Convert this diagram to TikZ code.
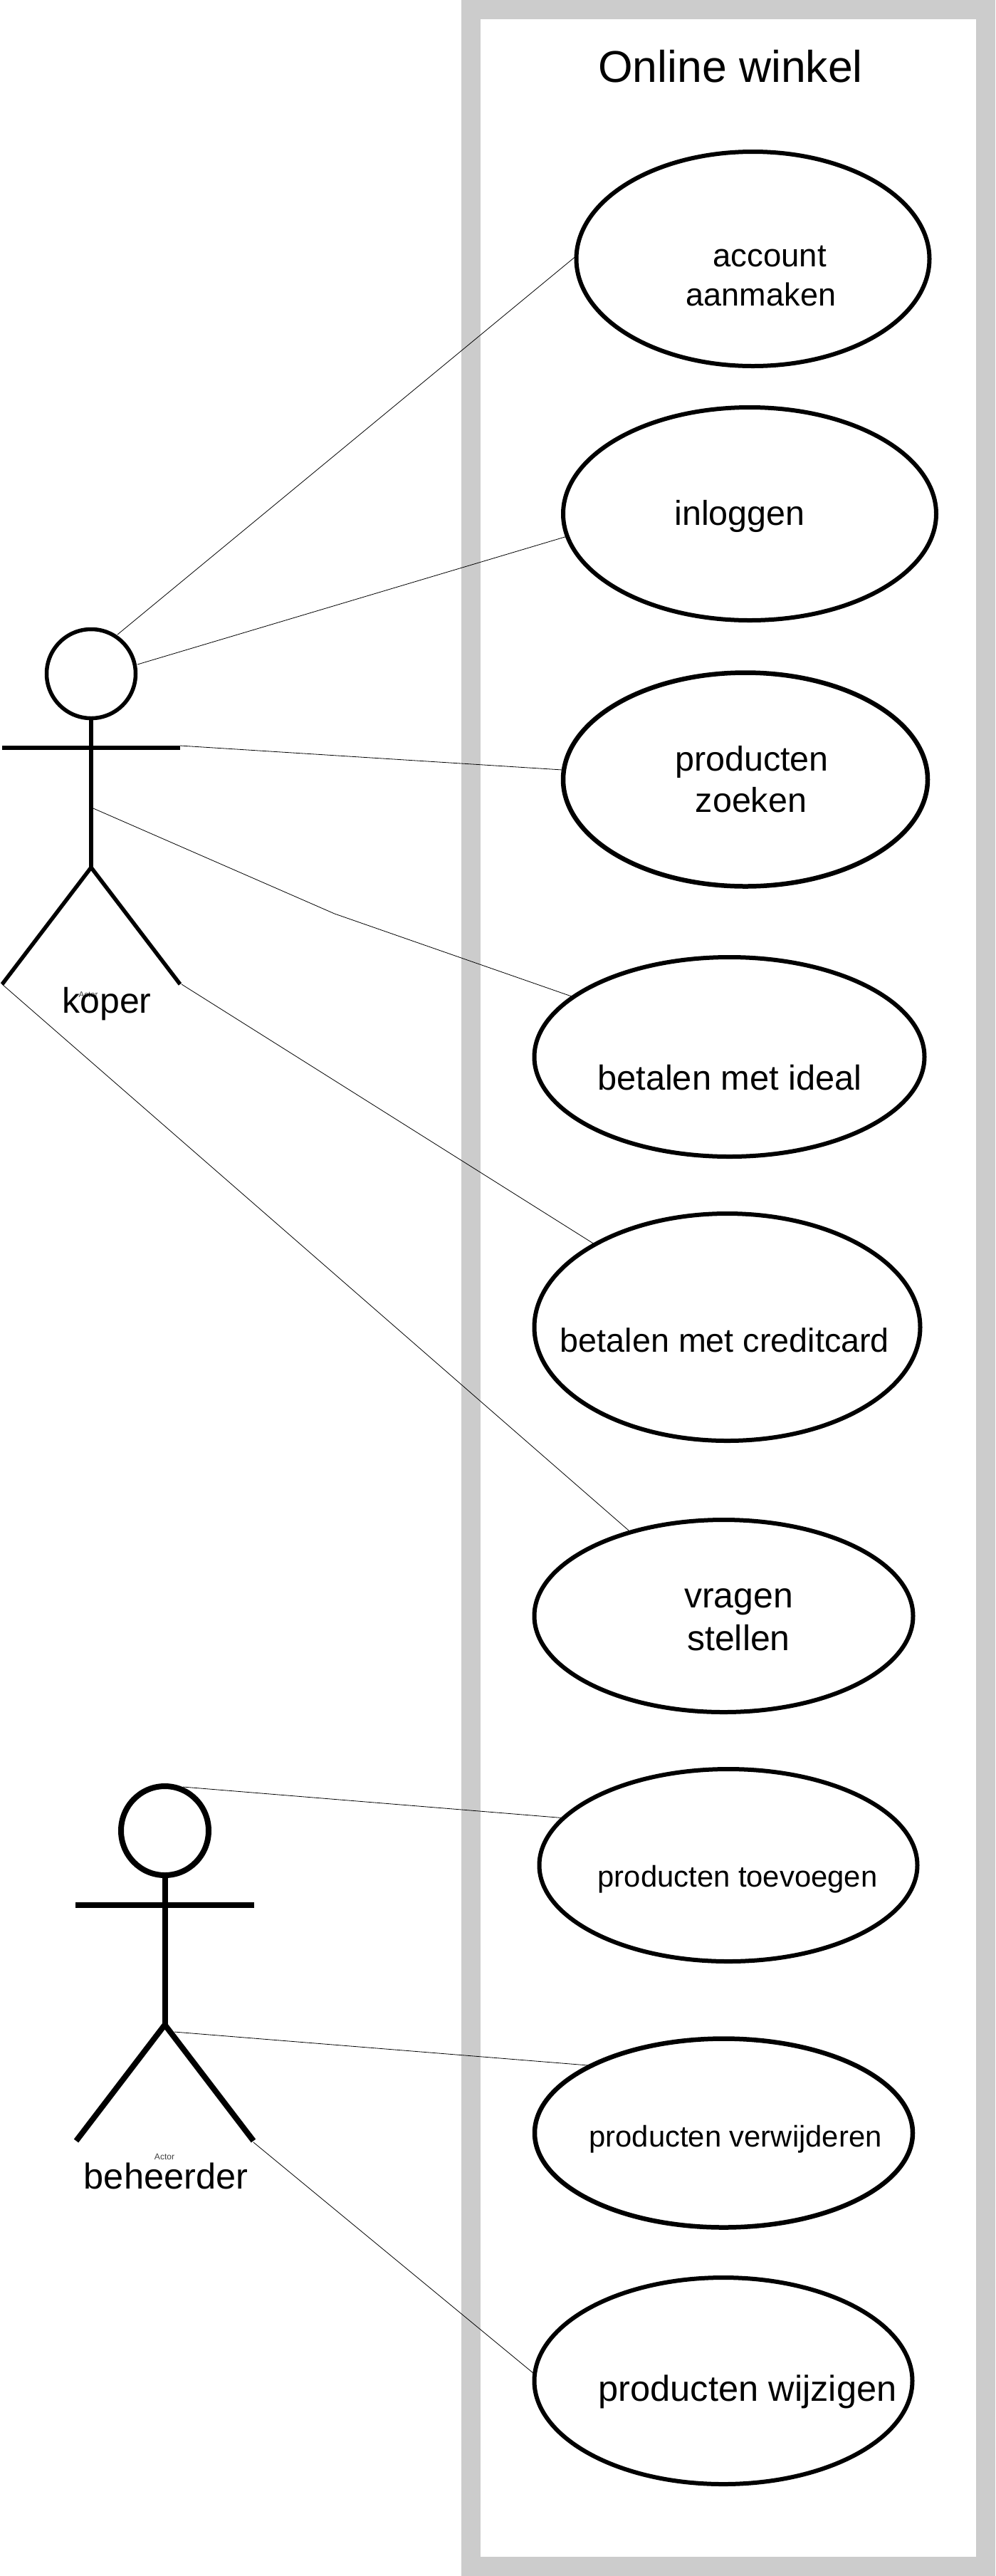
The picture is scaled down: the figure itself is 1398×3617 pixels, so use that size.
\documentclass[tikz,border=0pt]{standalone}
\usepackage{fontspec}
\setmainfont{Liberation Sans}
\usetikzlibrary{shapes.geometric}
\newcommand{\fs}[1]{\fontsize{#1pt}{1.2\dimexpr#1pt\relax}\selectfont}
\tikzset{
  usecase/.style={draw=black,ellipse,fill=white,inner sep=0pt,outer sep=0pt,line width=6pt},
  txt/.style={inner sep=0pt,outer sep=0pt,anchor=base,text=black},
  small/.style={txt,text=black!75,font=\fs{11.5}},
  conn/.style={draw=black,line width=0.8pt},
  limb/.style={draw=black,line width=#1,line cap=butt},
  head/.style={draw=black,ellipse,fill=white,inner sep=0pt,outer sep=0pt},
}
\begin{document}
\begin{tikzpicture}[x=1pt,y=-1pt]
\useasboundingbox (0,0) rectangle (1398,3617);
\fill[white] (0,0) rectangle (1398,3617);
\fill[black!20] (648,0) rectangle (1398,3617);
\fill[white] (675,27) rectangle (1371,3590);
\node[txt,font=\fs{62.5}] (title) at (1026,115) {Online winkel};
% use cases
\node[usecase,minimum width=496pt,minimum height=301pt] (e1) at (1057.5,363.5) {};
\node[usecase,minimum width=524pt,minimum height=299pt] (e2) at (1053,721.5) {};
\node[usecase,line width=6.5pt,minimum width=512pt,minimum height=300pt] (e3) at (1047,1094.5) {};
\node[usecase,minimum width=548pt,minimum height=280pt] (e4) at (1024.5,1484) {};
\node[usecase,minimum width=542pt,minimum height=319pt] (e5) at (1021.5,1863.5) {};
\node[usecase,minimum width=532pt,minimum height=270pt] (e6) at (1016.5,2269) {};
\node[usecase,minimum width=531pt,minimum height=270pt] (e7) at (1023,2619) {};
\node[usecase,line width=6.5pt,minimum width=531pt,minimum height=265pt] (e8) at (1016.5,2995) {};
\node[usecase,minimum width=531pt,minimum height=290pt] (e9) at (1016,3343) {};
% labels
\node[txt,font=\fs{45.5}] (t1a) at (1081,374) {account};
\node[txt,font=\fs{45}] (t1b) at (1069,429) {aanmaken};
\node[txt,font=\fs{48.5}] (t2) at (1039,737) {inloggen};
\node[txt,font=\fs{48.5}] (t3a) at (1056,1082) {producten};
\node[txt,font=\fs{48.5}] (t3b) at (1055,1140) {zoeken};
\node[txt,font=\fs{48.8}] (t4) at (1025,1530) {betalen met ideal};
\node[txt,font=\fs{46.7}] (t5) at (1018,1898) {betalen met creditcard};
\node[txt,font=\fs{50}] (t6a) at (1037.5,2257) {vragen};
\node[txt,font=\fs{50}] (t6b) at (1037.5,2317) {stellen};
\node[txt,font=\fs{41.8}] (t7) at (1036,2649) {producten toevoegen};
\node[txt,font=\fs{41.8}] (t8) at (1033,3014) {producten verwijderen};
\node[txt,font=\fs{50.6}] (t9) at (1050,3371) {producten wijzigen};
% actor koper
\node[head,line width=5.5pt,minimum width=125pt,minimum height=125pt] (h1) at (128,946) {};
\coordinate (k-larm) at (3,1050);
\coordinate (k-rarm) at (253,1050);
\coordinate (k-hip) at (128,1218);
\coordinate (k-lfoot) at (3,1382);
\coordinate (k-rfoot) at (253,1382);
\draw[limb=5.5pt] (h1.south) -- (k-hip);
\draw[limb=5.5pt] (k-larm) -- (k-rarm);
\draw[limb=5.5pt] (k-lfoot) -- (k-hip) -- (k-rfoot);
\node[small] (a1) at (124,1400) {Actor};
\node[txt,font=\fs{50}] (koper) at (150,1422) {koper};
% actor beheerder
\node[head,line width=8pt,minimum width=123pt,minimum height=125pt] (h2) at (231.5,2570.5) {};
\coordinate (b-larm) at (106,2675);
\coordinate (b-rarm) at (357,2675);
\coordinate (b-hip) at (231.5,2843);
\coordinate (b-lfoot) at (107,3006);
\coordinate (b-rfoot) at (356,3006);
\draw[limb=8pt] (h2.south) -- (b-hip);
\draw[limb=8pt] (b-larm) -- (b-rarm);
\draw[limb=8pt] (b-lfoot) -- (b-hip) -- (b-rfoot);
\node[small,font=\fs{12}] (a2) at (231,3032) {Actor};
\node[txt,font=\fs{50.5}] (beheerder) at (233,3073) {beheerder};
% connector ends
\coordinate (c1) at (165,891);
\coordinate (c2) at (193,933);
\coordinate (c3) at (253,1047);
\coordinate (c4) at (131,1135);
\coordinate (c4b) at (470,1283);
\coordinate (c5) at (255,1382);
\coordinate (c6) at (3,1382);
\coordinate (c7) at (257,2509);
\coordinate (c8) at (245,2853);
\coordinate (c9) at (356,3008);
\draw[conn] (c1) -- (e1.179);
\draw[conn] (c2) -- (e2.187);
\draw[conn] (c3) -- (e3.177);
\draw[conn] (c4) -- (c4b) -- (e4.159.8);
\draw[conn] (c5) -- (e5.148);
\draw[conn] (c6) -- (e6.138.6);
\draw[conn] (c7) -- (e7.164.5);
\draw[conn] (c8) -- (e8.153.7);
\draw[conn] (c9) -- (e9.178.7);
\end{tikzpicture}
\end{document}
